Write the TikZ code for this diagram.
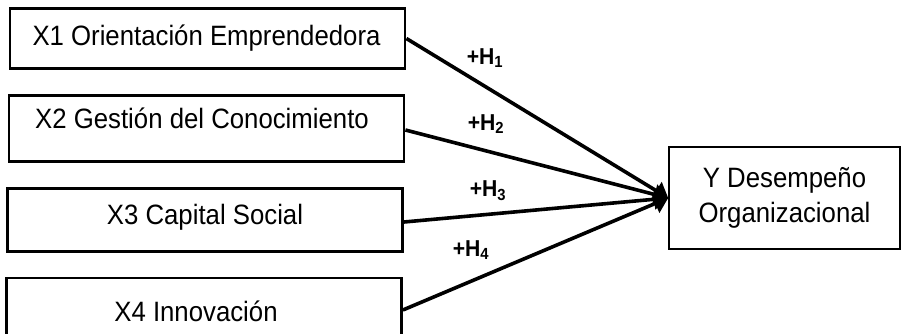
\documentclass[tikz,border=0pt]{standalone}
\usepackage{fontspec}
\setmainfont{Liberation Sans}[FakeStretch=0.92]
\usetikzlibrary{arrows.meta}
\begin{document}
\begin{tikzpicture}[x=1pt,y=-1pt,
  varbox/.style={draw, line width=2.8pt, rectangle, inner sep=0pt,
    minimum width=395pt},
  vartext/.style={font=\fontsize{28}{30}\selectfont, inner sep=0pt},
  outbox/.style={draw, line width=1.6pt, rectangle, inner sep=0pt,
    minimum width=231pt, minimum height=102pt, align=center,
    font=\fontsize{28}{35}\selectfont},
  conn/.style={line width=3.6pt, -{Triangle[length=14pt,width=20pt]}},
  hyp/.style={font=\bfseries\fontsize{23}{24}\selectfont, inner sep=0pt}]
\useasboundingbox (0,0) rectangle (901,334);
% independent variables
\node[varbox, minimum height=60pt] (x1) at (207.5,38.5) {};
\node[varbox, minimum height=66pt] (x2) at (206.5,128.5) {};
\node[varbox, minimum height=63pt] (x3) at (205,220) {};
\node[varbox, minimum height=64pt] (x4) at (204,310) {};
\node[vartext] (t1) at (206.5,38) {X1 Orientación Emprendedora};
\node[vartext] (t2) at (202,118) {X2 Gestión del Conocimiento};
\node[vartext] (t3) at (205,217) {X3 Capital Social};
\node[vartext] (t4) at (196,311) {X4 Innovación};
% dependent variable
\node[outbox] (y) at (784.5,198) {Y Desempeño\\Organizacional};
% hypothesised paths
\draw[conn] (x1.east) -- (y.west);
\draw[conn] ([yshift=-1.5pt]x2.east) -- (y.west);
\draw[conn] ([yshift=-2pt]x3.east) -- (y.west);
\draw[conn] (x4.east) -- (y.west);
% hypothesis labels
\node[hyp] (h1) at (485,58) {+H\textsubscript{1}};
\node[hyp] (h2) at (486,124) {+H\textsubscript{2}};
\node[hyp] (h3) at (488,191) {+H\textsubscript{3}};
\node[hyp] (h4) at (471,250) {+H\textsubscript{4}};
\end{tikzpicture}
\end{document}
